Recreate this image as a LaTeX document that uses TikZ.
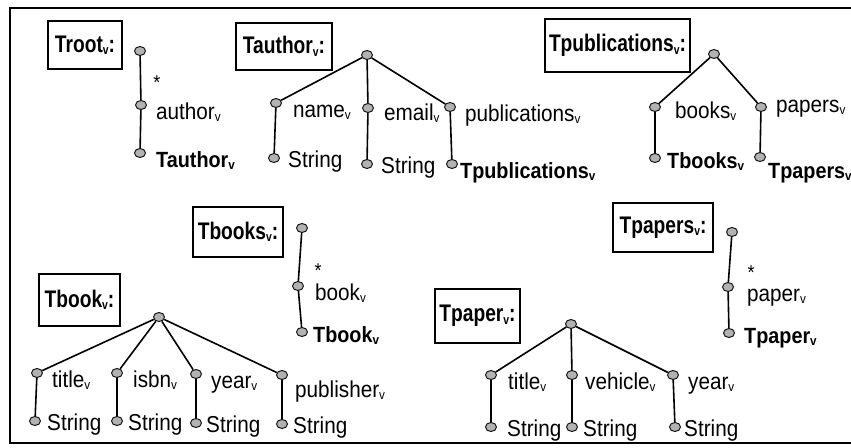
\documentclass[tikz,border=0pt]{standalone}
\usepackage{fontspec}
\setmainfont{Liberation Sans}[FakeStretch=0.9]
\newfontfamily\condfont{Liberation Sans}[FakeStretch=0.8]
\usetikzlibrary{positioning,shapes.geometric}

% small lowered v after each type name
\newcommand{\sv}{\raisebox{-2.5pt}{\fontsize{13}{13}\selectfont v}}

\tikzset{
  vert/.style={ellipse, draw=black!90, line width=1pt, fill=gray!60, inner sep=0pt,
    minimum width=11pt, minimum height=9pt},
  txt/.style={inner sep=0pt, anchor=base west, yshift=-14pt, font=\fontsize{23}{26}\selectfont},
  btxt/.style={txt, font=\fontsize{22}{26}\selectfont\bfseries},
  stxt/.style={txt, yshift=5pt},
  star/.style={inner sep=0pt, font=\fontsize{20}{20}\selectfont},
  tname/.style={draw, line width=1.3pt, inner sep=0pt,
    font=\fontsize{24}{28}\condfont\bfseries},
  branch/.style={line width=1.6pt},
}

\begin{document}
\begin{tikzpicture}[x=1pt, y=-1pt]
  \useasboundingbox (0,0) rectangle (851,447);
  \draw[line width=1.4pt] (10,8) rectangle (870,443);

  % Troot
  \node[tname, minimum width=74pt, minimum height=48pt] (troot) at (85,45) {Troot\sv:};
  \node[vert] (r0) at (140,51) {};
  \node[vert] (r1) at (141,105) {};
  \node[vert] (r2) at (140,153) {};
  \node[star] (rs) at (157,83) {*};
  \node[right=9pt of r1, txt] (r1l) {author\sv};
  \node[right=10pt of r2, btxt] (r2l) {Tauthor\sv};
  \draw[branch] (r0) -- (r1) -- (r2);

  % Tauthor
  \node[tname, minimum width=96pt, minimum height=47pt] (tauthor) at (284,46.5) {Tauthor\sv:};
  \node[vert] (a0) at (367,55) {};
  \node[vert] (a1) at (276,103) {};
  \node[vert] (a2) at (368,108) {};
  \node[vert] (a3) at (450,107) {};
  \node[vert] (a4) at (274,158) {};
  \node[vert] (a5) at (367,164) {};
  \node[vert] (a6) at (452,164) {};
  \node[right=11pt of a1, txt] (a1l) {name\sv};
  \node[right=10pt of a2, txt, yshift=2pt] (a2l) {email\sv};
  \node[right=9pt of a3, txt] (a3l) {publications\sv};
  \node[right=8pt of a4, stxt] (a4l) {String};
  \node[right=8pt of a5, stxt] (a5l) {String};
  \node[right=2pt of a6, btxt] (a6l) {Tpublications\sv};
  \draw[branch] (a0) -- (a1) -- (a4);
  \draw[branch] (a0) -- (a2) -- (a5);
  \draw[branch] (a0) -- (a3) -- (a6);

  % Tpublications
  \node[tname, minimum width=145pt, minimum height=53pt] (tpubs) at (617.5,45.5) {Tpublications\sv:};
  \node[vert] (p0) at (714,54) {};
  \node[vert] (p1) at (655,107) {};
  \node[vert] (p2) at (761,107) {};
  \node[vert] (p3) at (655,158) {};
  \node[vert] (p4) at (760,157) {};
  \node[right=14pt of p1, txt, yshift=3pt] (p1l) {books\sv};
  \node[right=9pt of p2, txt, yshift=9pt] (p2l) {papers\sv};
  \node[right=6pt of p3, btxt, yshift=4pt] (p3l) {Tbooks\sv};
  \node[right=2pt of p4, btxt, yshift=-7pt] (p4l) {Tpapers\sv};
  \draw[branch] (p0) -- (p1) -- (p3);
  \draw[branch] (p0) -- (p2) -- (p4);

  % Tbooks
  \node[tname, minimum width=90pt, minimum height=50pt] (tbooks) at (238,232) {Tbooks\sv:};
  \node[vert] (b0) at (302,228) {};
  \node[vert] (b1) at (298,286) {};
  \node[vert] (b2) at (302,332) {};
  \node[star] (bs) at (318,271) {*};
  \node[right=11pt of b1, txt] (b1l) {book\sv};
  \node[right=5pt of b2, btxt, yshift=4pt] (b2l) {Tbook\sv};
  \draw[branch] (b0) -- (b1) -- (b2);

  % Tbook
  \node[tname, minimum width=81pt, minimum height=52pt] (tbook) at (79.5,300) {Tbook\sv:};
  \node[vert] (k0) at (159,317) {};
  \node[vert] (k1) at (37,373) {};
  \node[vert] (k2) at (117,373) {};
  \node[vert] (k3) at (196,374) {};
  \node[vert] (k4) at (282,375) {};
  \node[vert] (k5) at (35,421) {};
  \node[vert] (k6) at (117,421) {};
  \node[vert] (k7) at (196,423) {};
  \node[vert] (k8) at (282,424) {};
  \node[right=9pt of k1, txt] (k1l) {title\sv};
  \node[right=10pt of k2, txt] (k2l) {isbn\sv};
  \node[right=9pt of k3, txt] (k3l) {year\sv};
  \node[right=7pt of k4, txt, yshift=-8pt] (k4l) {publisher\sv};
  \node[right=6pt of k5, stxt] (k5l) {String};
  \node[right=5pt of k6, stxt] (k6l) {String};
  \node[right=4pt of k7, stxt] (k7l) {String};
  \node[right=5pt of k8, stxt] (k8l) {String};
  \foreach \i/\j in {1/5, 2/6, 3/7, 4/8}
    \draw[branch] (k0) -- (k\i) -- (k\j);

  % Tpapers
  \node[tname, minimum width=100pt, minimum height=49pt] (tpapers) at (663,227.5) {Tpapers\sv:};
  \node[vert] (q0) at (732,232) {};
  \node[vert] (q1) at (728,287) {};
  \node[vert] (q2) at (729,333) {};
  \node[star] (qs) at (751,273) {*};
  \node[right=13pt of q1, txt] (q1l) {paper\sv};
  \node[right=9pt of q2, btxt, yshift=4pt] (q2l) {Tpaper\sv};
  \draw[branch] (q0) -- (q1) -- (q2);

  % Tpaper
  \node[tname, minimum width=85pt, minimum height=54pt] (tpaper) at (477.5,316) {Tpaper\sv:};
  \node[vert] (e0) at (571,324) {};
  \node[vert] (e1) at (491,375) {};
  \node[vert] (e2) at (572,375) {};
  \node[vert] (e3) at (673,375) {};
  \node[vert] (e4) at (491,427) {};
  \node[vert] (e5) at (572,427) {};
  \node[vert] (e6) at (675,427) {};
  \node[right=11pt of e1, txt] (e1l) {title\sv};
  \node[right=7pt of e2, txt] (e2l) {vehicle\sv};
  \node[right=9pt of e3, txt] (e3l) {year\sv};
  \node[right=10pt of e4, stxt] (e4l) {String};
  \node[right=5pt of e5, stxt] (e5l) {String};
  \node[right=3pt of e6, stxt] (e6l) {String};
  \foreach \i/\j in {1/4, 2/5, 3/6}
    \draw[branch] (e0) -- (e\i) -- (e\j);
\end{tikzpicture}
\end{document}
